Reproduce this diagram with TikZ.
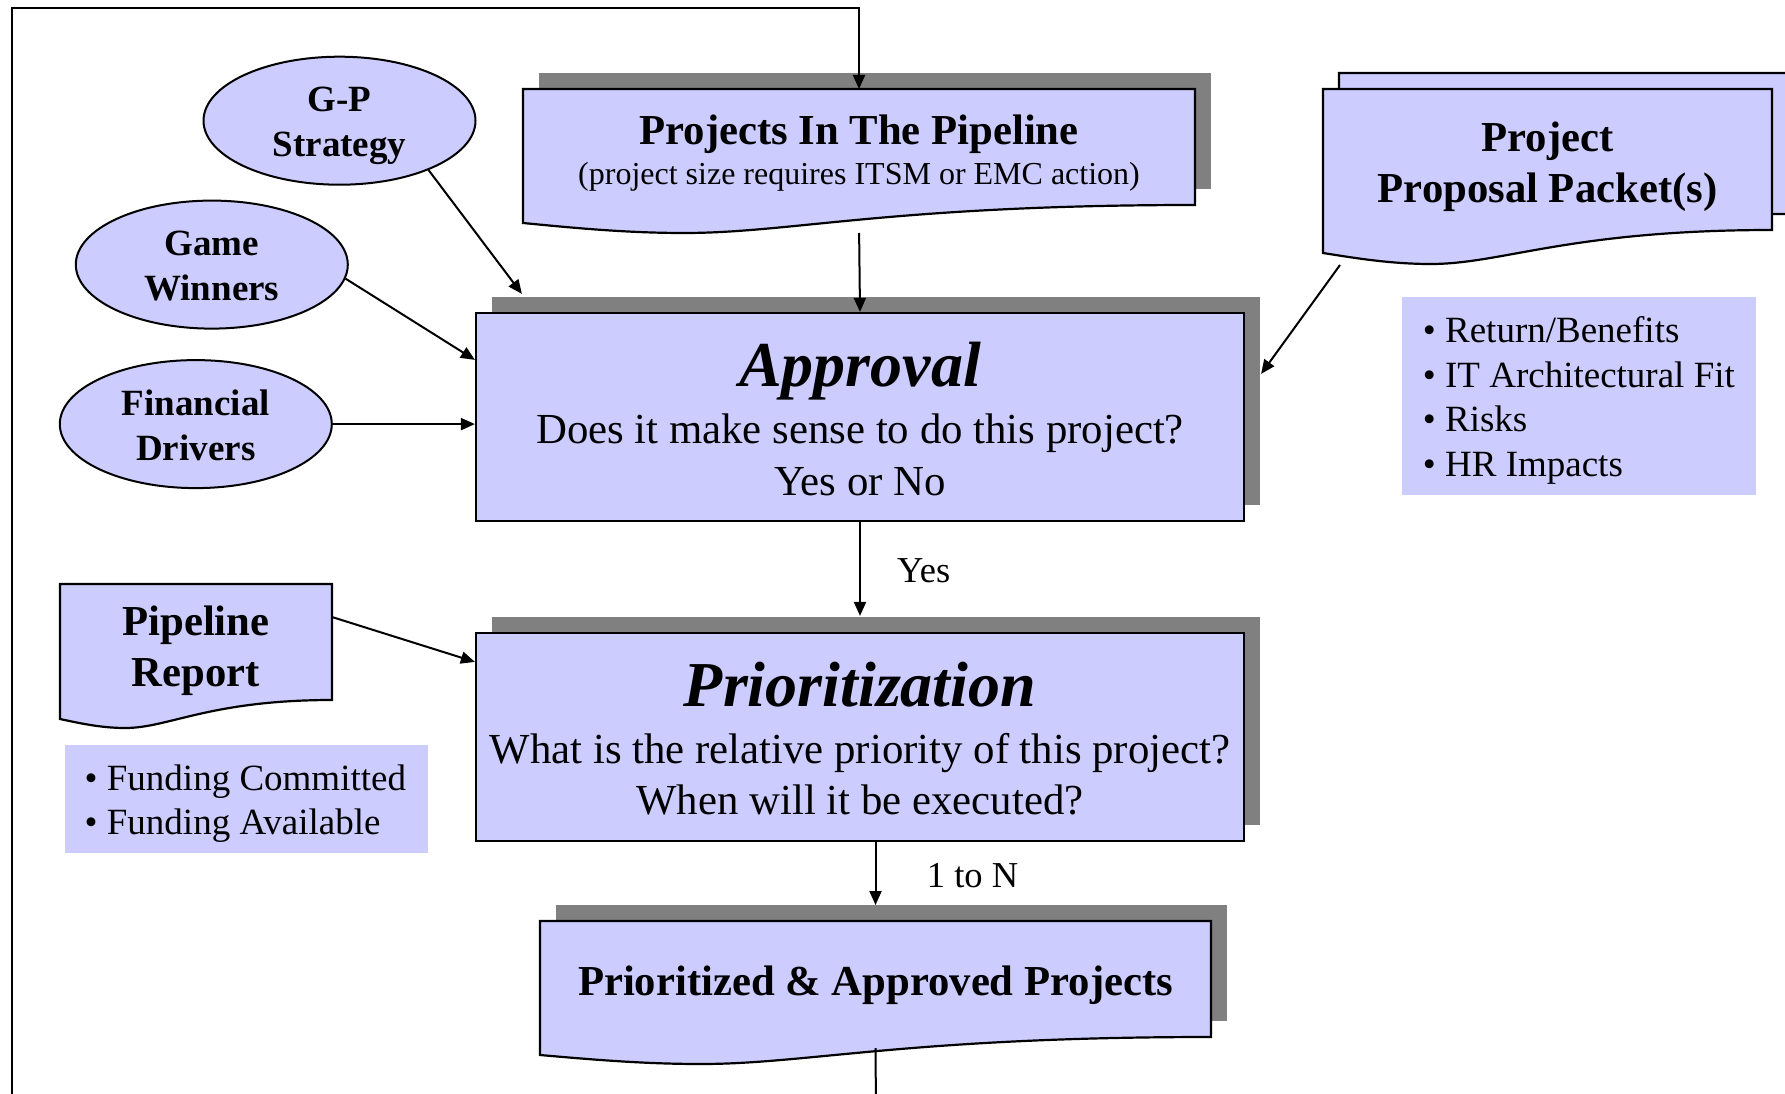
\documentclass[tikz,border=0pt]{standalone}
\usepackage{fontspec}
\setmainfont{Liberation Serif}
\usetikzlibrary{arrows.meta,calc,shapes.geometric}

\definecolor{lav}{RGB}{204,204,255}
\definecolor{shade}{RGB}{128,128,128}

\newcommand{\fsz}[2]{\fontsize{#1}{#2}\selectfont}

% document symbol: left, top, right, left bottom, trough, right bottom
\newcommand{\docshape}[6]{%
  \filldraw[docline] (#1,#2) -- (#3,#2) -- (#3,#6)
    .. controls ({#1+0.55*(#3-#1)},#6) and ({#1+0.40*(#3-#1)},#5) .. ({#1+0.24*(#3-#1)},#5)
    .. controls ({#1+0.15*(#3-#1)},#5) and ({#1+0.07*(#3-#1)},{#4+0.45*(#5-#4)}) .. (#1,#4) -- cycle;}

\begin{document}
\begin{tikzpicture}[x=1pt,y=-1pt,
  edge/.style={line width=2pt, -{Triangle[length=14pt,width=12pt]}},
  plainline/.style={line width=2pt},
  docline/.style={draw=black, line width=2.2pt, fill=lav, line join=miter},
  box/.style={draw=black, line width=2.2pt, fill=lav, inner sep=0pt},
  area/.style={inner sep=0pt, outer sep=0pt},
  oval/.style={ellipse, draw=black, line width=2pt, fill=lav,
    minimum width=272pt, minimum height=128pt, inner sep=0pt},
  note/.style={fill=lav, inner sep=0pt, outer sep=0pt},
  shadowfill/.style={fill=shade},
  txt/.style={anchor=base, inner sep=0pt},
  head/.style={txt, font=\fsz{42.7}{50}\bfseries},
  sub/.style={txt, font=\fsz{32}{38}},
  otext/.style={txt, font=\fsz{37}{44}\bfseries},
  bigtitle/.style={txt, font=\fsz{64}{72}\bfseries\itshape},
  body/.style={txt, font=\fsz{42.8}{50}},
  item/.style={anchor=base west, inner sep=0pt, font=\fsz{37}{44}},
  lbl/.style={anchor=base west, inner sep=0pt, font=\fsz{36.5}{44}}
]
\path[use as bounding box] (0,0) rectangle (1785,1094);
\clip (0,0) rectangle (1785,1094);
\fill[white] (0,0) rectangle (1785,1094);

% ---------- inputs on the left ----------
\node[oval] (gp) at (339.5,120.7) {};
\node[otext] (gpa) at ($(gp)+(0,-9.3)$) {G-P};
\node[otext] (gpb) at ($(gp)+(0,36.3)$) {Strategy};

\node[oval] (gw) at (211.8,264.6) {};
\node[otext] (gwa) at ($(gw)+(0,-9.3)$) {Game};
\node[otext] (gwb) at ($(gw)+(0,35.6)$) {Winners};

\node[oval] (fd) at (195.8,424.1) {};
\node[otext] (fda) at ($(fd)+(0,-8.3)$) {Financial};
\node[otext] (fdb) at ($(fd)+(0,36.4)$) {Drivers};

% ---------- projects in the pipeline ----------
\fill[shadowfill] (539,73) rectangle (1211,189);
\docshape{523}{89}{1195}{223}{233}{205}
\node[area, minimum width=672pt, minimum height=134pt] (proj) at (859,156) {};
\node[head] (projhead) at ($(proj.north)+(0,56)$) {Projects In The Pipeline};
\node[sub] (projsub) at ($(proj.north)+(0,96)$) {(project size requires ITSM or EMC action)};

% ---------- proposal packets ----------
\docshape{1339}{73}{1788}{237}{248}{214}
\docshape{1323}{89}{1772}{253}{264}{230}
\node[area, minimum width=449pt, minimum height=164pt] (prop) at (1547.5,171) {};
\node[head] (propa) at ($(prop.north)+(0,62.7)$) {Project};
\node[head] (propb) at ($(prop.north)+(0,113.7)$) {Proposal Packet(s)};

\node[note, minimum width=354pt, minimum height=198pt] (rnote) at (1579,396) {};
\node[item] (rn1) at ($(rnote.north west)+(20.7,45.7)$) {• Return/Benefits};
\node[item] (rn2) at ($(rnote.north west)+(20.7,90.2)$) {• IT Architectural Fit};
\node[item] (rn3) at ($(rnote.north west)+(20.7,134.7)$) {• Risks};
\node[item] (rn4) at ($(rnote.north west)+(20.7,179.4)$) {• HR Impacts};

% ---------- approval ----------
\fill[shadowfill] (492,297) rectangle (1260,505);
\node[box, minimum width=768pt, minimum height=208pt] (approval) at (860,417) {};
\node[bigtitle] (aptitle) at ($(approval.north)+(0,74.5)$) {Approval};
\node[body] (apq) at ($(approval.north)+(0,132)$) {Does it make sense to do this project?};
\node[body] (apyn) at ($(approval.north)+(0,184)$) {Yes or No};

% ---------- pipeline report ----------
\docshape{60}{584}{332}{719}{728}{700}
\node[area, minimum width=272pt, minimum height=135pt] (pipe) at (196,651.5) {};
\node[head] (pipea) at ($(pipe.north)+(0,51)$) {Pipeline};
\node[head] (pipeb) at ($(pipe.north)+(0,102.7)$) {Report};

\node[note, minimum width=363pt, minimum height=108pt] (lnote) at (246.5,799) {};
\node[item] (ln1) at ($(lnote.north west)+(19.5,45)$) {• Funding Committed};
\node[item] (ln2) at ($(lnote.north west)+(19.5,89)$) {• Funding Available};

% ---------- prioritization ----------
\fill[shadowfill] (492,617) rectangle (1260,825);
\node[box, minimum width=768pt, minimum height=208pt] (prio) at (860,737) {};
\node[bigtitle] (prtitle) at ($(prio.north)+(0,74.8)$) {Prioritization};
\node[body] (prq) at ($(prio.north)+(0,131.4)$) {What is the relative priority of this project?};
\node[body] (prw) at ($(prio.north)+(0,182.6)$) {When will it be executed?};

\node[lbl] (yes) at (897,582.5) {Yes};
\node[lbl, fill=white, inner xsep=22.7pt, inner ysep=21pt] (oneton) at (904,887) {1 to N};

% ---------- prioritized and approved projects ----------
\fill[shadowfill] (556,905) rectangle (1227,1021);
\docshape{540}{921}{1211}{1055}{1064}{1037}
\node[area, minimum width=671pt, minimum height=134pt] (pad) at (875.5,988) {};
\node[head] (padtext) at ($(pad.north)+(0,74)$) {Prioritized \& Approved Projects};

% ---------- connectors ----------
\coordinate (loopstart) at (12,1110);
\coordinate (looptop) at (12,8.5);
\coordinate (loopend) at (876,1110);
\draw[edge] (loopstart) -- (looptop) -| (proj.north);
\draw[edge, shorten <=10pt] (proj.south) -- (approval.north);
\draw[edge] (gp.-29) -- ($(approval.north west)+(47,-18)$);
\draw[edge] (gw.-6.5) -- ($(approval.north west)+(0,48)$);
\draw[edge] (fd.east) -- (fd.east -| approval.west);
\draw[edge] ($(prop.south west)+(17,12)$) -- ($(approval.north east)+(16,62)$);
\draw[edge, shorten >=16pt] (approval.south) -- (prio.north);
\draw[edge] ($(pipe.north east)+(0,33)$) -- ($(prio.north west)+(0,30)$);
\draw[edge, shorten >=16pt] (pad.north |- prio.south) -- (pad.north);
\draw[plainline] ($(pad.south)+(0,-7)$) -- (loopend);
\end{tikzpicture}
\end{document}
